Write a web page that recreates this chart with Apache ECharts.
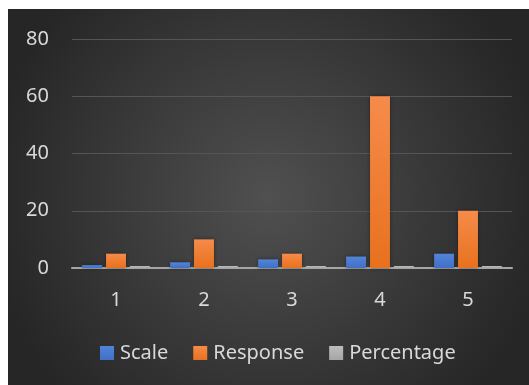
<!DOCTYPE html>
<html>
<head>
<meta charset="utf-8">
<script src="https://cdn.jsdelivr.net/npm/echarts@6/dist/echarts.min.js"></script>
<style>
  html, body { margin: 0; padding: 0; background: #fff; }
  #main { width: 529px; height: 385px; }
</style>
</head>
<body>
<div id="main"></div>
<script>
// chart data
var categories = ['1', '2', '3', '4', '5'];
var scaleValues = [1, 2, 3, 4, 5];
var responseValues = [5, 10, 5, 60, 20];
var percentageValues = [0.05, 0.1, 0.05, 0.6, 0.2];
var yTicks = [0, 20, 40, 60, 80];

function barGrad(top, bottom) {
  return new echarts.graphic.LinearGradient(0, 0, 0, 1, [
    { offset: 0, color: top },
    { offset: 1, color: bottom }
  ]);
}

var chart = echarts.init(document.getElementById('main'));

var labelFont = { color: '#d9d9d9', fontSize: 20, fontFamily: 'Noto Sans' };

var option = {
  backgroundColor: '#fff',
  animation: false,
  graphic: [{
    type: 'rect',
    z: -10,
    silent: true,
    shape: { x: 8, y: 9, width: 521, height: 376 },
    style: {
      fill: new echarts.graphic.RadialGradient(0.5, 0.5, 0.75, [
        { offset: 0, color: '#505050' },
        { offset: 1, color: '#262626' }
      ])
    }
  }],
  grid: { left: 72, right: 17, top: 39, bottom: 117 },
  legend: {
    bottom: 17,
    left: 95,
    itemWidth: 14,
    itemHeight: 14,
    itemGap: 25,
    icon: 'rect',
    textStyle: Object.assign({ padding: [0, 0, 0, 1] }, labelFont),
    data: ['Scale', 'Response', 'Percentage']
  },
  xAxis: {
    type: 'category',
    data: categories,
    axisLine: { lineStyle: { color: '#a6a6a6', width: 2 } },
    axisTick: { show: false },
    axisLabel: Object.assign({ margin: 22 }, labelFont)
  },
  yAxis: {
    type: 'value',
    min: yTicks[0],
    max: yTicks[yTicks.length - 1],
    interval: 20,
    axisLine: { show: false },
    axisTick: { show: false },
    axisLabel: Object.assign({ margin: 23 }, labelFont),
    splitLine: { lineStyle: { color: '#555555', width: 1 } }
  },
  series: [
    {
      name: 'Scale',
      type: 'bar',
      data: scaleValues,
      barGap: '20%',
      barCategoryGap: '23%',
      itemStyle: { color: barGrad('#5284da', '#4170c4'), shadowColor: 'rgba(0,0,0,0.4)', shadowBlur: 4 }
    },
    {
      name: 'Response',
      type: 'bar',
      data: responseValues,
      barGap: '20%',
      barCategoryGap: '23%',
      itemStyle: { color: barGrad('#f68b4a', '#e8711e'), shadowColor: 'rgba(0,0,0,0.4)', shadowBlur: 4 }
    },
    {
      name: 'Percentage',
      type: 'bar',
      data: percentageValues,
      barGap: '20%',
      barCategoryGap: '23%',
      barMinHeight: 2,
      itemStyle: { color: barGrad('#bdbdbd', '#a5a5a5') }
    }
  ]
};

chart.setOption(option);
</script>
</body>
</html>
